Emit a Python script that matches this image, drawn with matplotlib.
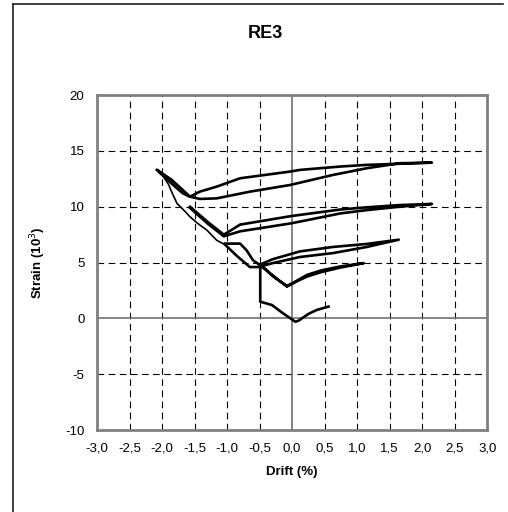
import numpy as np
import matplotlib
matplotlib.use("Agg")
import matplotlib.pyplot as plt
from matplotlib.lines import Line2D

plt.rcParams["font.family"] = ["Liberation Sans", "DejaVu Sans"]

# cycle at 0.5 % drift
c05_x = [-0.49, -0.49, -0.31, -0.15, 0.00, 0.05, 0.10, 0.25, 0.38, 0.56]
c05_y = [4.80, 1.50, 1.20, 0.50, -0.10, -0.30, -0.20, 0.40, 0.76, 1.06]

# cycle at 1.0 % drift
c10_x = [-0.49, -0.29, -0.18, -0.08, 0.10, 0.23, 0.45, 0.74, 1.10,
         0.74, 0.45, 0.23, 0.05, -0.08, -0.20, -0.35, -0.49]
c10_y = [4.80, 3.75, 3.30, 2.85, 3.40, 3.75, 4.15, 4.55, 4.95,
         4.65, 4.30, 3.90, 3.30, 2.90, 3.40, 4.10, 4.80]

# cycle at 1.5 % drift
c15_x = [-1.03, -0.85, -0.65, -0.52, -0.30, 0.12, 0.63, 1.15, 1.64,
         1.15, 0.63, 0.12, -0.30, -0.50, -0.60, -0.70, -0.80, -1.03]
c15_y = [6.60, 5.60, 4.60, 4.60, 4.95, 5.50, 5.85, 6.40, 7.05,
         6.67, 6.40, 6.00, 5.30, 4.80, 5.20, 6.10, 6.70, 6.70]

# cycle at 2.0 % drift
c20_x = [-1.57, -1.30, -1.05, -0.80, -0.03, 0.12, 0.74, 1.15, 1.65, 2.15,
         1.65, 1.15, 0.74, 0.12, -0.03, -0.80, -1.05, -1.30, -1.57]
c20_y = [9.90, 8.50, 7.35, 7.80, 8.50, 8.67, 9.40, 9.70, 10.00, 10.25,
         10.15, 9.95, 9.75, 9.27, 9.15, 8.40, 7.50, 8.65, 10.00]

# largest cycle
c25_x = [-2.08, -1.95, -1.80, -1.68, -1.57, -1.42, -1.16, -0.65, -0.03, 0.63,
         1.15, 1.66, 2.15, 1.15, 0.74, 0.12, -0.03, -0.80, -1.16, -1.42,
         -1.57, -1.70, -1.85, -2.05]
c25_y = [13.30, 12.60, 11.80, 11.20, 10.90, 10.70, 10.75, 11.35, 11.95, 12.85,
         13.45, 13.90, 13.95, 13.75, 13.60, 13.30, 13.15, 12.55, 11.80, 11.35,
         10.90, 11.60, 12.40, 13.20]

# single descending excursion
down_x = [-2.05, -1.98, -1.90, -1.85, -1.77, -1.65, -1.57, -1.45, -1.31, -1.16, -1.03]
down_y = [13.10, 12.70, 12.00, 11.30, 10.30, 9.60, 9.10, 8.50, 7.90, 7.00, 6.60]

xticks = np.arange(-3.0, 3.01, 0.5)
yticks = np.arange(-10, 21, 5)

fig = plt.figure(figsize=(5.08, 5.12), dpi=100)
ax = fig.add_axes([0.191, 0.160, 0.768, 0.6543])

# grid, zero lines solid
for xv in xticks:
    if abs(xv) > 1e-9:
        ax.axvline(xv, color="black", lw=0.8, ls=(0, (6, 4)), zorder=1)
for yv in yticks:
    if yv != 0:
        ax.axhline(yv, color="black", lw=0.8, ls=(0, (6, 4)), zorder=1)
ax.axvline(0, color="#707070", lw=1.2, zorder=1)
ax.axhline(0, color="#707070", lw=1.2, zorder=1)

for xs, ys in [(c05_x, c05_y), (c10_x, c10_y), (c15_x, c15_y),
               (c20_x, c20_y), (c25_x, c25_y)]:
    ax.plot(xs, ys, color="black", lw=1.9, solid_joinstyle="round", zorder=3)
ax.plot(down_x, down_y, color="black", lw=1.2, zorder=3)

ax.set_xlim(-3, 3)
ax.set_ylim(-10, 20)
ax.set_xticks(xticks)
ax.set_yticks(yticks)
ax.set_xticklabels([f"{v:.1f}".replace(".", ",") for v in xticks])
ax.set_yticklabels([str(v) for v in yticks])
ax.tick_params(length=0, labelsize=9.5, pad=9)
for s in ax.spines.values():
    s.set_color("#808080")
    s.set_linewidth(2)

ax.set_xlabel("Drift (%)", fontsize=9.5, fontweight="bold", labelpad=8)
ax.set_ylabel("Strain (10$^3$)", fontsize=9.5, fontweight="bold", labelpad=12)
fig.text(265 / 508, 1 - 33 / 512, "RE3", ha="center", va="center",
         fontsize=13, fontweight="bold")

# outer chart frame (left and top edges visible)
fig.add_artist(Line2D([13 / 508, 13 / 508], [0, 1 - 4 / 512],
                      transform=fig.transFigure, color="#202020", lw=1.2))
fig.add_artist(Line2D([13 / 508, 503 / 508], [1 - 4 / 512, 1 - 4 / 512],
                      transform=fig.transFigure, color="#202020", lw=1.2))

fig.savefig("out.png", dpi=100)
